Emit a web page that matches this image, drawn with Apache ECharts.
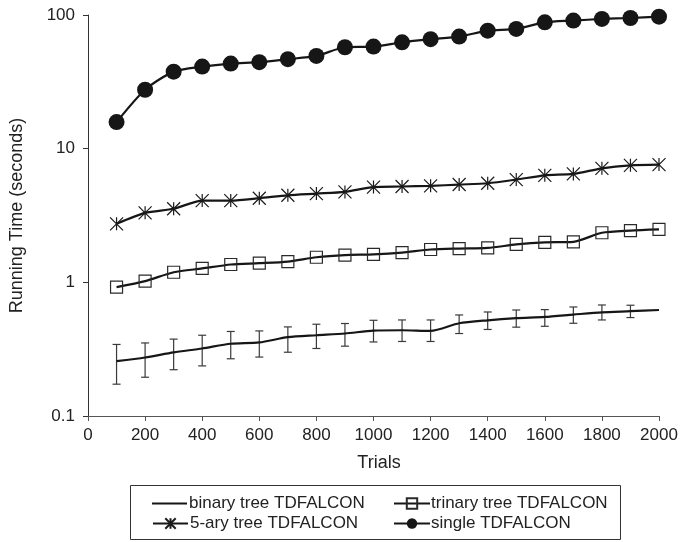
<!DOCTYPE html>
<html>
<head>
<meta charset="utf-8">
<script src="https://cdn.jsdelivr.net/npm/echarts@6/dist/echarts.min.js"></script>
<style>
  html, body { margin: 0; padding: 0; background: #fff; }
  #chart { width: 681px; height: 542px; }
</style>
</head>
<body>
<div id="chart"></div>
<script>
// Number of trials on the x axis
const trials = [100, 200, 300, 400, 500, 600, 700, 800, 900, 1000,
                1100, 1200, 1300, 1400, 1500, 1600, 1700, 1800, 1900, 2000];

// Running time in seconds for each variant
const binaryTree = [0.257, 0.274, 0.299, 0.320, 0.347, 0.355, 0.389, 0.402, 0.414, 0.435,
                    0.438, 0.433, 0.494, 0.520, 0.539, 0.551, 0.574, 0.597, 0.608, 0.621];
// Error bar bounds for the binary tree runs (none at the last trial count)
const binaryLow  = [0.173, 0.195, 0.222, 0.237, 0.268, 0.276, 0.300, 0.320, 0.333, 0.358,
                    0.361, 0.361, 0.414, 0.444, 0.462, 0.469, 0.494, 0.523, 0.545, null];
const binaryHigh = [0.343, 0.352, 0.376, 0.402, 0.429, 0.433, 0.464, 0.486, 0.492, 0.520,
                    0.523, 0.523, 0.570, 0.600, 0.621, 0.625, 0.654, 0.677, 0.674, null];
const trinaryTree = [0.92, 1.02, 1.19, 1.27, 1.36, 1.39, 1.43, 1.54, 1.60, 1.62,
                     1.67, 1.76, 1.79, 1.81, 1.92, 1.99, 2.01, 2.35, 2.44, 2.49];
const fiveAryTree = [2.74, 3.31, 3.55, 4.09, 4.09, 4.26, 4.48, 4.61, 4.75, 5.16,
                     5.21, 5.27, 5.39, 5.51, 5.87, 6.32, 6.47, 7.13, 7.50, 7.60];
const single = [15.8, 27.6, 37.7, 41.1, 43.3, 44.4, 46.7, 49.4, 57.4, 58.0,
                62.5, 65.9, 68.9, 76.4, 78.7, 88.2, 90.8, 93.4, 95.0, 97.1];

const seriesNames = ['binary tree TDFALCON', 'trinary tree TDFALCON',
                     '5-ary tree TDFALCON', 'single TDFALCON'];

const INK = '#161616';
const FONT = 'Liberation Sans, Arial, Helvetica, sans-serif';
const starPath = 'path://M6,0L6,12M0,0L12,12M0,12L12,0';

const pairs = vals => trials.map((t, i) => [t, vals[i]]);
const errData = trials.map((t, i) => [t, binaryLow[i], binaryHigh[i]])
                      .filter(d => d[1] != null);

const chart = echarts.init(document.getElementById('chart'), null, { renderer: 'canvas' });

const lineBase = {
  type: 'line',
  smooth: 0.25,
  lineStyle: { color: INK, width: 2.2 },
  z: 3
};

// One legend entry per block so each row and column sits exactly in the boxed key
const legendText = { fontSize: 17, color: '#222', fontFamily: FONT };
function legendEntry(name, left, top, extra) {
  return Object.assign({
    data: [name],
    orient: 'vertical',
    left: left, top: top,
    padding: 0,
    itemWidth: 35, itemHeight: 13,
    textStyle: Object.assign({}, legendText, { padding: [0, 0, 0, -3] })
  }, extra || {});
}

chart.setOption({
  animation: false,
  backgroundColor: '#fff',
  textStyle: { fontFamily: FONT },
  grid: { left: 86, right: 22, top: 15, bottom: 126, containLabel: false },
  xAxis: {
    type: 'value',
    min: 0, max: 2000, interval: 200,
    name: 'Trials',
    nameLocation: 'middle',
    nameGap: 38,
    nameTextStyle: { fontSize: 18, color: '#222', fontFamily: FONT, padding: [0, 0, 0, 11] },
    axisLine: { show: true, onZero: false, lineStyle: { color: '#555', width: 1 } },
    axisTick: { show: true, inside: false, length: 5, lineStyle: { color: '#555' } },
    axisLabel: { fontSize: 17, color: '#222', margin: 11, fontFamily: FONT,
                 formatter: v => String(v) },
    splitLine: { show: false }
  },
  yAxis: {
    type: 'log',
    logBase: 10,
    min: 0.1, max: 100,
    name: 'Running Time (seconds)',
    nameLocation: 'middle',
    nameGap: 62,
    nameTextStyle: { fontSize: 18, color: '#222', fontFamily: FONT },
    axisLine: { show: true, lineStyle: { color: '#333', width: 1 } },
    axisTick: { show: true, inside: false, length: 5, lineStyle: { color: '#333' } },
    axisLabel: {
      fontSize: 17, color: '#222', margin: 13, fontFamily: FONT,
      formatter: v => String(+v.toPrecision(3))
    },
    minorTick: { show: false },
    splitLine: { show: false }
  },
  legend: [
    legendEntry(seriesNames[0], 152, 495, { icon: 'rect', itemHeight: 2.2,
      itemStyle: { color: INK } }),
    legendEntry(seriesNames[2], 152, 515),
    legendEntry(seriesNames[1], 393, 495, { itemWidth: 36,
      textStyle: Object.assign({}, legendText, { padding: [0, 0, 0, -4] }) }),
    legendEntry(seriesNames[3], 393, 515, { itemWidth: 36,
      textStyle: Object.assign({}, legendText, { padding: [0, 0, 0, -4] }) })
  ],
  graphic: [
    {
      type: 'rect',
      shape: { x: 130.5, y: 485.5, width: 490, height: 54 },
      style: { fill: 'none', stroke: '#333', lineWidth: 1 },
      silent: true,
      z: 0
    }
  ],
  series: [
    Object.assign({}, lineBase, {
      name: seriesNames[0],
      data: pairs(binaryTree),
      symbol: 'none',
      itemStyle: { color: INK }
    }),
    {
      name: 'binary tree error',
      type: 'custom',
      data: errData,
      z: 2,
      silent: true,
      renderItem: function (params, api) {
        const x = api.value(0);
        const lo = api.coord([x, api.value(1)]);
        const hi = api.coord([x, api.value(2)]);
        const cap = 4;
        const style = { stroke: '#3a3a3a', lineWidth: 1.2 };
        return {
          type: 'group',
          children: [
            { type: 'line', shape: { x1: lo[0], y1: lo[1], x2: hi[0], y2: hi[1] }, style: style },
            { type: 'line', shape: { x1: hi[0] - cap, y1: hi[1], x2: hi[0] + cap, y2: hi[1] }, style: style },
            { type: 'line', shape: { x1: lo[0] - cap, y1: lo[1], x2: lo[0] + cap, y2: lo[1] }, style: style }
          ]
        };
      }
    },
    Object.assign({}, lineBase, {
      name: seriesNames[1],
      data: pairs(trinaryTree),
      symbol: 'rect',
      symbolSize: 12,
      itemStyle: { color: 'rgba(255,255,255,0)', borderColor: '#2a2a2a', borderWidth: 1.2 }
    }),
    Object.assign({}, lineBase, {
      name: seriesNames[2],
      data: pairs(fiveAryTree),
      symbol: starPath,
      symbolSize: 13,
      itemStyle: { color: 'rgba(255,255,255,0)', borderColor: '#1a1a1a', borderWidth: 1.2 }
    }),
    Object.assign({}, lineBase, {
      name: seriesNames[3],
      data: pairs(single),
      symbol: 'circle',
      symbolSize: 16,
      itemStyle: { color: INK, borderWidth: 0 }
    })
  ]
});
</script>
</body>
</html>
